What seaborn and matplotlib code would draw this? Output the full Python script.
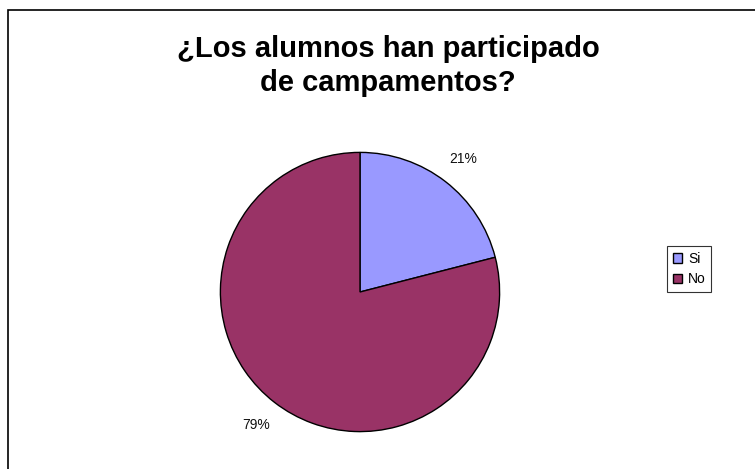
import matplotlib
matplotlib.use("Agg")
import matplotlib.pyplot as plt
import seaborn as sns
from matplotlib.patches import Rectangle, Patch

sns.set_style("white")
plt.rcParams['font.family'] = ['Liberation Sans', 'DejaVu Sans']
plt.rcParams['text.color'] = 'black'

# Data
categories = ['Si', 'No']
shares = [21, 79]
colors = ['#9999FF', '#993366']
title_lines = ['¿Los alumnos han participado', 'de campamentos?']

fig = plt.figure(figsize=(7.55, 4.69), dpi=100)

# outer chart frame (right/bottom edges fall outside the image)
fig.patches.append(Rectangle((8 / 755, -0.1), 1.2, 1 - 10 / 469 + 0.1,
                             transform=fig.transFigure, fill=False,
                             edgecolor='black', linewidth=1.2))

ax = fig.add_axes([219 / 755, 36 / 469, 282 / 755, 282 / 469])
wedges, texts, autotexts = ax.pie(
    shares, colors=colors, startangle=90, counterclock=False,
    autopct='%1.0f%%', pctdistance=1.21,
    wedgeprops=dict(edgecolor='black', linewidth=1.0),
    textprops=dict(fontsize=10, color='#111111'))
ax.set_xlim(-1.01, 1.01)
ax.set_ylim(-1.01, 1.01)
ax.set_aspect('equal')
ax.axis('off')

# title, two centred lines
fig.text(388 / 755, 1 - 57 / 469, title_lines[0], ha='center', va='baseline',
         fontsize=21, fontweight='bold', color='black')
fig.text(388 / 755, 1 - 91 / 469, title_lines[1], ha='center', va='baseline',
         fontsize=21, fontweight='bold', color='black')

handles = [Patch(facecolor=c, edgecolor='black', linewidth=1.0) for c in colors]
leg = fig.legend(handles, categories, loc='center left',
                 bbox_to_anchor=(667 / 755, 1 - 269 / 469),
                 frameon=True, fancybox=False, fontsize=10,
                 handlelength=0.7, handleheight=0.7, handletextpad=0.4,
                 borderpad=0.4, labelspacing=0.5, borderaxespad=0)
leg.get_frame().set_edgecolor('black')
leg.get_frame().set_linewidth(0.8)

fig.savefig('out.png', dpi=100)
